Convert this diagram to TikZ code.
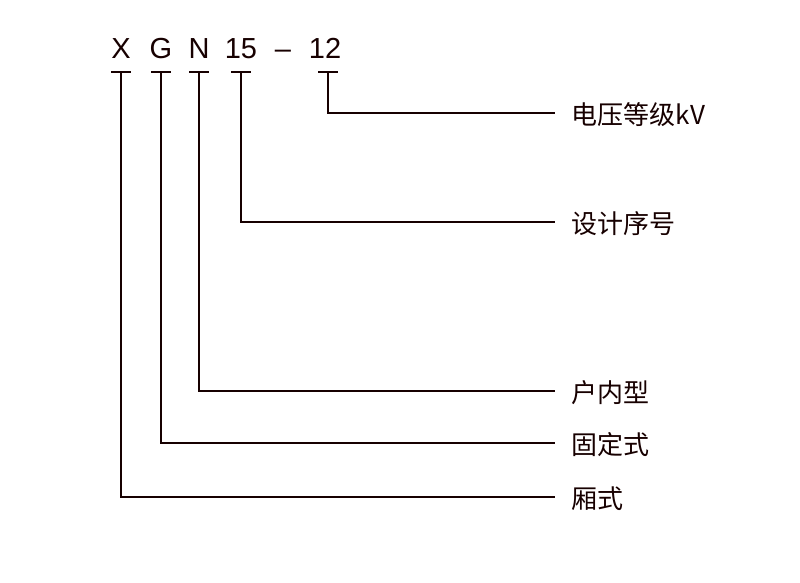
\documentclass[tikz,border=0pt]{standalone}
\usepackage{fontspec}
\setmainfont{Liberation Sans}
\newfontfamily\cjk{Noto Sans CJK SC}
\begin{document}
\begin{tikzpicture}[x=1pt,y=-1pt,line width=1.7pt,color={black!85!red!60!black},
		code/.style={font=\fontsize{29}{29}\selectfont,anchor=base,inner sep=0pt},
		bar/.style={line cap=butt},
		lbl/.style={font=\cjk\fontsize{26}{26}\selectfont,anchor=west,inner xsep=16pt,inner ysep=0pt,text height=23pt,text depth=1pt}]
		\useasboundingbox (0,0) rectangle (800,582);
		
		% model code
		\node[code] (cx) at (121,58) {X};
		\node[code] (cg) at (161,58) {G};
		\node[code] (cn) at (199,58) {N};
		\node[code] (cs) at (241,58) {15};
		\node[code] (cd) at (283,58) {--};
		\node[code] (cv) at (325,58) {12};
		
		% explanations
		\node[lbl] (kv) at (555,113) {电压等级kV};
		\node[lbl] (xh) at (555,222) {设计序号};
		\node[lbl] (hn) at (555,391) {户内型};
		\node[lbl] (gd) at (555,443) {固定式};
		\node[lbl] (xs) at (555,497) {厢式};
		
		% T marks under the code
		\foreach \n/\xx in {x/121, g/161, n/199, s/241, v/328} {
			\coordinate (t\n) at (\xx,72);
			\draw[bar] (\xx-10,72) -- (\xx+10,72);
		}
		
		\draw (tv) |- (kv.west);
		\draw (ts) |- (xh.west);
		\draw (tn) |- (hn.west);
		\draw (tg) |- (gd.west);
		\draw (tx) |- (xs.west);
	\end{tikzpicture}
\end{document}
